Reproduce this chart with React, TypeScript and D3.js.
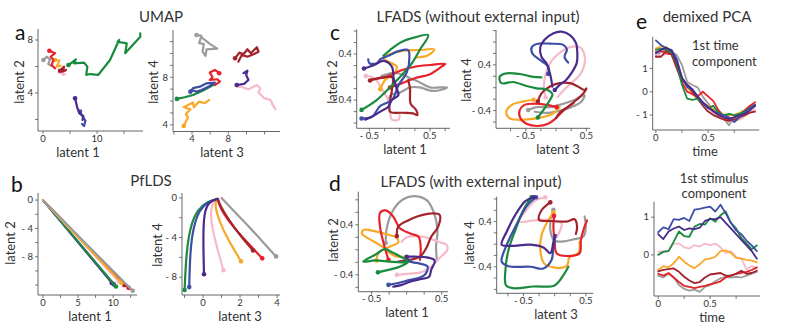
import React from 'react';
import * as d3 from 'd3';

type Pt = [number, number];
type Series = Record<string, Pt[]>;

const COLORS: Record<string, string> = {
  gray: '#9b9b9b',
  pink: '#f6b9ca',
  orange: '#f8a927',
  red: '#e7222b',
  darkred: '#a3232b',
  green: '#198b3e',
  blue: '#3c4fa4',
  indigo: '#4a2b8d',
};
const ORDER = ['gray', 'pink', 'orange', 'red', 'darkred', 'green', 'blue', 'indigo'];
const ORDER_B = ['indigo', 'blue', 'green', 'darkred', 'red', 'pink', 'orange', 'gray'];

// a: UMAP, latent 1 vs latent 2
const umap12: Series = {
  green: [[4.7, 6.11], [6.1, 6.54], [5.7, 6.24], [7.6, 6.29], [8.2, 5.99], [8.0, 5.36], [8.7, 5.43], [10.2, 5.36], [12.4, 6.49], [13.8, 7.75], [14.1, 8.0], [13.8, 7.87], [15.5, 7.75], [15.2, 7.0], [18.0, 8.25], [18.0, 8.5]],
  indigo: [[5.93, 3.6], [6.36, 2.85], [6.73, 2.47], [7.47, 2.26], [7.3, 1.96]],
  blue: [[6.85, 2.59], [7.35, 2.21], [7.84, 1.91], [7.6, 1.51], [7.2, 1.66]],
  red: [[1.17, 7.19], [2.22, 7.0], [1.42, 6.74], [1.91, 6.49], [1.6, 6.11], [2.22, 5.86]],
  gray: [[0.06, 6.49], [0.68, 6.74], [1.3, 6.54], [0.98, 6.19], [1.6, 6.04]],
  orange: [[2.22, 6.49], [3.02, 6.44], [2.53, 5.99], [3.27, 6.06]],
  darkred: [[3.15, 5.68], [3.89, 5.99], [3.64, 5.61], [4.26, 5.74]],
  pink: [[3.15, 5.61], [3.77, 5.36], [4.07, 5.43]],
};

// a: UMAP, latent 3 vs latent 4
const umap34: Series = {
  gray: [[4.49, 11.55], [5.04, 11.47], [4.78, 10.86], [5.3, 10.8], [5.16, 10.15], [5.49, 9.79], [5.6, 10.35], [6.78, 10.4], [5.96, 10.8], [5.04, 11.36]],
  darkred: [[8.74, 9.6], [9.22, 10.07], [9.67, 9.93], [10.11, 10.35], [10.48, 10.02], [11.15, 10.52], [11.33, 10.15], [10.85, 9.96], [10.11, 9.73], [9.48, 9.87], [9.11, 9.31]],
  red: [[7.0, 8.34], [6.52, 8.61], [5.96, 8.39], [6.26, 8.0], [5.96, 7.77], [6.78, 7.83], [7.08, 7.63], [6.52, 7.35]],
  blue: [[3.82, 6.79], [4.11, 7.08], [4.86, 7.21], [5.6, 7.49], [6.52, 7.55], [5.96, 7.27], [5.04, 6.93], [4.49, 6.79], [3.93, 6.93]],
  green: [[2.33, 6.18], [3.19, 6.32], [4.11, 6.51], [5.22, 6.88], [6.33, 7.35]],
  orange: [[3.08, 3.91], [3.56, 4.64], [3.3, 4.89], [3.82, 5.31], [3.08, 5.48], [4.11, 5.87], [4.19, 5.48], [4.78, 5.95], [5.41, 5.82], [5.89, 6.09]],
  indigo: [[8.93, 7.35], [9.74, 7.44], [10.22, 7.77], [9.97, 8.19], [10.11, 8.55], [9.67, 8.34]],
  pink: [[9.11, 7.27], [10.22, 6.99], [11.15, 7.35], [11.52, 7.08], [11.33, 6.71], [11.97, 6.24], [12.63, 6.1], [13.19, 5.31], [12.82, 5.76]],
};

// b: PfLDS, latent 1 vs latent 2
const pflds12: Series = {
  indigo: [[0, 0], [9.8, -11.7]],
  blue: [[0, 0], [10.1, -11.9]],
  green: [[0, 0], [10.4, -12.2]],
  pink: [[0, 0], [10.8, -11.5]],
  orange: [[0, 0], [11.2, -11.7]],
  darkred: [[0, 0], [11.6, -12.0]],
  red: [[0, 0], [12.2, -12.4]],
  gray: [[0, 0], [12.8, -12.8]],
};

// b: PfLDS, latent 3 vs latent 4
const pflds34: Series = {
  green: [[0.75, -0.1], [0.2, -0.4], [-0.3, -1.2], [-0.65, -2.6], [-0.9, -5.2], [-1.0, -9.3]],
  blue: [[0.75, -0.1], [0.25, -0.4], [-0.2, -1.2], [-0.52, -2.9], [-0.7, -5.3], [-0.75, -9.0]],
  indigo: [[0.75, -0.1], [0.3, -0.4], [0.05, -1.5], [0.0, -4.0], [0.05, -7.7]],
  pink: [[0.75, -0.1], [0.45, -0.6], [0.4, -2.0], [0.6, -4.0], [1.1, -7.3]],
  orange: [[0.8, -0.1], [0.6, -0.6], [0.9, -2.5], [1.35, -4.2], [2.05, -6.4]],
  red: [[0.8, -0.1], [0.9, -1.0], [1.6, -2.9], [2.4, -4.5], [3.2, -6.1]],
  darkred: [[0.8, -0.1], [0.95, -0.9], [1.5, -2.5], [2.1, -4.0], [2.7, -5.3]],
  gray: [[1.0, 0.0], [1.7, -1.4], [2.5, -2.9], [3.2, -4.4], [3.95, -5.9]],
};

// c: LFADS without external input, latent 1 vs latent 2
const lfadsNo12: Series = {
  green: [[-0.63, -0.57], [-0.38, -0.4], [-0.16, -0.18], [0.03, 0.03], [0.2, 0.24], [0.33, 0.47], [0.47, 0.73], [0.25, 0.69], [0.03, 0.61], [-0.16, 0.47], [-0.27, 0.37]],
  blue: [[-0.63, -0.72], [-0.46, -0.69], [-0.32, -0.5], [-0.13, -0.4], [-0.02, -0.14], [0.12, 0.09], [0.16, 0.35], [0.14, 0.47], [-0.02, 0.45], [-0.19, 0.37], [-0.32, 0.31], [-0.38, 0.24], [-0.5, 0.24], [-0.52, 0.31]],
  orange: [[-0.32, -0.21], [-0.24, -0.05], [-0.1, 0.05], [-0.05, 0.18], [-0.19, 0.27], [-0.27, 0.33], [-0.13, 0.41], [0.06, 0.46], [0.33, 0.47], [0.57, 0.48], [0.47, 0.38], [0.28, 0.34]],
  red: [[-0.16, -0.18], [0.03, -0.11], [0.25, -0.02], [0.5, 0.05], [0.69, 0.18], [0.75, 0.23], [0.5, 0.21], [0.25, 0.18], [0.03, 0.12], [-0.16, 0.03], [-0.32, -0.02], [-0.46, -0.04]],
  gray: [[-0.17, -0.39], [-0.15, -0.31], [0.0, -0.27], [0.17, -0.18], [0.33, -0.18], [0.53, -0.24], [0.69, -0.22], [0.78, -0.18], [0.66, -0.18], [0.5, -0.18], [0.31, -0.08], [0.17, -0.02], [0.03, 0.05], [-0.13, 0.07], [-0.3, 0.02]],
  indigo: [[-0.59, 0.15], [-0.42, 0.21], [-0.27, 0.28], [-0.13, 0.18], [-0.1, -0.02], [-0.05, -0.2], [-0.02, -0.31], [-0.13, -0.4], [-0.19, -0.52], [-0.32, -0.6], [-0.46, -0.69], [-0.57, -0.74]],
  darkred: [[-0.49, -0.06], [-0.3, -0.01], [-0.12, -0.01], [-0.13, -0.23], [-0.16, -0.6], [0.03, -0.62], [0.22, -0.63], [0.29, -0.66], [0.27, -0.57], [0.18, -0.46], [0.17, -0.2], [0.14, -0.05]],
  pink: [[-0.56, 0.02], [-0.42, -0.02], [-0.3, -0.2], [-0.19, -0.4], [-0.16, -0.6], [-0.13, -0.74], [-0.02, -0.74], [0.0, -0.66]],
};

// c: LFADS without external input, latent 3 vs latent 4
const lfadsNo34: Series = {
  green: [[-0.3, -0.52], [-0.19, -0.36], [-0.1, -0.21], [-0.06, -0.11], [-0.16, -0.03], [-0.32, -0.01], [-0.49, 0.03], [-0.71, 0.1], [-0.9, 0.08], [-0.93, 0.19], [-0.82, 0.25], [-0.6, 0.24], [-0.38, 0.19], [-0.24, 0.18]],
  blue: [[-0.13, 0.24], [-0.13, 0.37], [-0.27, 0.49], [-0.39, 0.6], [-0.4, 0.71], [-0.3, 0.77], [-0.1, 0.77], [0.12, 0.75], [0.18, 0.67], [0.14, 0.54], [0.2, 0.44]],
  indigo: [[-0.02, -0.04], [0.06, 0.05], [0.17, 0.14], [0.25, 0.25], [0.34, 0.43], [0.35, 0.63], [0.33, 0.78], [0.23, 0.92], [0.09, 0.98], [-0.05, 0.95], [-0.19, 0.84], [-0.26, 0.71], [-0.24, 0.54], [-0.16, 0.43], [-0.1, 0.25], [-0.06, 0.02]],
  pink: [[-0.17, -0.17], [-0.2, 0.02], [-0.17, 0.25], [-0.08, 0.46], [0.06, 0.61], [0.23, 0.71], [0.39, 0.71], [0.47, 0.57], [0.46, 0.37], [0.39, 0.22], [0.25, 0.08], [0.12, -0.05], [0.03, -0.16]],
  darkred: [[-0.3, -0.24], [-0.24, -0.1], [-0.1, 0.02], [0.06, 0.08], [0.23, 0.08], [0.36, 0.02], [0.47, -0.04], [0.5, -0.01], [0.45, -0.1], [0.34, -0.21], [0.2, -0.33], [0.06, -0.44], [0.0, -0.53]],
  gray: [[-0.46, -0.39], [-0.32, -0.34], [-0.1, -0.34], [0.12, -0.28], [0.31, -0.21], [0.47, -0.13], [0.42, -0.24], [0.25, -0.34], [0.06, -0.4], [-0.13, -0.44], [-0.35, -0.42]],
  orange: [[-0.37, -0.21], [-0.54, -0.24], [-0.73, -0.3], [-0.82, -0.42], [-0.77, -0.53], [-0.63, -0.56], [-0.43, -0.55], [-0.24, -0.52], [-0.05, -0.45], [0.06, -0.34]],
  red: [[0.01, -0.34], [-0.16, -0.3], [-0.35, -0.28], [-0.52, -0.3], [-0.6, -0.39], [-0.59, -0.53], [-0.49, -0.63], [-0.3, -0.67], [-0.13, -0.63], [-0.02, -0.55], [0.12, -0.4], [0.29, -0.27]],
};

// d: LFADS with external input, latent 1 vs latent 2
const lfadsWith12: Series = {
  gray: [[-0.3, 0.11], [-0.28, 0.37], [-0.19, 0.64], [-0.05, 0.81], [0.12, 0.86], [0.29, 0.79], [0.39, 0.59], [0.44, 0.32], [0.42, 0.05], [0.43, -0.15]],
  red: [[-0.26, -0.16], [-0.33, 0.11], [-0.38, 0.37], [-0.38, 0.59], [-0.3, 0.63], [-0.19, 0.53], [-0.1, 0.35], [0.05, 0.26], [0.17, 0.21], [0.2, 0.03], [0.19, -0.16]],
  darkred: [[-0.14, 0.22], [-0.12, 0.37], [0.02, 0.47], [0.17, 0.54], [0.33, 0.58], [0.47, 0.56], [0.45, 0.37], [0.35, 0.21], [0.29, 0.05], [0.19, -0.11], [0.05, -0.16], [-0.12, -0.19]],
  orange: [[-0.43, -0.17], [-0.4, -0.05], [-0.26, 0.04], [-0.12, 0.12], [-0.14, 0.19], [-0.26, 0.24], [-0.43, 0.29], [-0.61, 0.32], [-0.64, 0.26], [-0.53, 0.17], [-0.36, 0.06], [-0.17, -0.1], [-0.02, -0.11]],
  green: [[-0.41, -0.36], [-0.26, -0.32], [-0.1, -0.27], [0.02, -0.19], [-0.07, -0.12], [-0.21, -0.04], [-0.31, 0.01], [-0.45, -0.08], [-0.62, -0.19], [-0.45, -0.17], [-0.24, -0.19], [-0.07, -0.2], [0.05, -0.19]],
  pink: [[-0.14, -0.4], [0.05, -0.38], [0.21, -0.36], [0.35, -0.27], [0.47, -0.13], [0.58, 0.0], [0.57, 0.08], [0.45, 0.13], [0.31, 0.19], [0.14, 0.22], [0.0, 0.2], [-0.07, 0.13]],
  indigo: [[0.0, -0.11], [0.12, -0.11], [0.29, -0.12], [0.4, -0.17], [0.35, -0.32], [0.32, -0.43], [0.19, -0.47], [0.05, -0.51], [-0.07, -0.56], [-0.19, -0.59]],
  blue: [[-0.26, -0.56], [-0.12, -0.53], [0.05, -0.48], [0.17, -0.45], [0.26, -0.4], [0.3, -0.27], [0.19, -0.22], [0.06, -0.19], [0.0, -0.11]],
};

// d: LFADS with external input, latent 3 vs latent 4
const lfadsWith34: Series = {
  green: [[-0.37, 0.83], [-0.5, 0.61], [-0.63, 0.25], [-0.74, -0.1], [-0.79, -0.46], [-0.78, -0.73], [-0.66, -0.78], [-0.34, -0.75], [0.0, -0.73], [0.14, -0.55], [0.22, -0.4]],
  indigo: [[-0.34, 0.83], [-0.47, 0.76], [-0.63, 0.52], [-0.77, 0.22], [-0.85, -0.01], [-0.71, -0.03], [-0.39, -0.01], [-0.18, -0.06], [-0.07, -0.16], [-0.02, 0.04], [0.0, 0.16]],
  blue: [[-0.3, 0.83], [-0.45, 0.67], [-0.63, 0.31], [-0.78, -0.04], [-0.85, -0.31], [-0.74, -0.39], [-0.39, -0.4], [-0.18, -0.43], [-0.05, -0.28], [-0.02, -0.04], [0.02, 0.16]],
  pink: [[-0.15, 0.83], [-0.31, 0.77], [-0.47, 0.58], [-0.58, 0.4], [-0.34, 0.42], [-0.1, 0.43], [0.11, 0.37], [0.08, 0.22], [0.04, 0.13]],
  darkred: [[-0.07, 0.74], [-0.21, 0.6], [-0.25, 0.43], [-0.07, 0.41], [0.19, 0.4], [0.32, 0.44], [0.36, 0.31], [0.34, 0.18]],
  orange: [[-0.02, 0.56], [-0.13, 0.37], [-0.21, 0.16], [-0.23, -0.1], [-0.17, -0.34], [-0.02, -0.41], [0.19, -0.39], [0.24, -0.23], [0.38, -0.16], [0.4, 0.04]],
  gray: [[-0.02, 0.61], [-0.07, 0.4], [-0.06, 0.19], [0.0, 0.06], [0.16, 0.05], [0.32, 0.09], [0.46, 0.13], [0.5, 0.31], [0.48, 0.49]],
  red: [[-0.01, 0.5], [-0.02, 0.28], [0.0, 0.07], [0.03, -0.16], [0.19, -0.21], [0.4, -0.16], [0.42, 0.07], [0.47, 0.28], [0.52, 0.42]],
};

// e: demixed PCA
const timePoints = [0, 0.05, 0.1, 0.15, 0.2, 0.25, 0.3, 0.35, 0.4, 0.45, 0.5, 0.55, 0.6, 0.65, 0.7, 0.75, 0.8, 0.85, 0.9, 0.95];

const dpcaTime: Record<string, number[]> = {
  gray: [1.57, 1.7, 1.79, 1.7, 1.57, 1.15, 0.43, 0.29, 0.19, -0.22, -0.5, -0.79, -0.97, -1.15, -1.44, -1.08, -0.93, -0.79, -0.67, -0.57],
  blue: [2.2, 2.0, 1.85, 1.8, 1.4, 0.6, 0.2, 0.1, -0.2, -0.5, -0.7, -0.8, -0.95, -1.0, -1.1, -1.3, -1.1, -0.9, -0.7, -0.55],
  orange: [1.85, 1.95, 1.9, 1.75, 1.3, 0.6, 0.2, -0.1, -0.3, -0.5, -0.6, -0.75, -0.8, -1.0, -1.0, -1.0, -0.9, -0.8, -0.7, -0.6],
  green: [1.8, 1.85, 1.8, 1.7, 1.2, 0.3, -0.3, -0.35, -0.3, -0.5, -0.7, -0.6, -0.9, -1.0, -0.95, -1.0, -0.95, -0.85, -0.7, -0.6],
  red: [1.7, 1.75, 1.65, 1.6, 1.0, 0.4, 0.0, -0.1, -0.2, 0.0, -0.2, -0.4, -0.8, -1.1, -1.2, -1.1, -1.0, -0.8, -0.6, -0.45],
  darkred: [1.5, 1.5, 1.75, 1.6, 1.1, 0.5, 0.3, 0.0, -0.3, -0.6, -0.85, -1.0, -1.1, -1.2, -1.25, -1.2, -1.1, -1.0, -0.9, -0.85],
  pink: [1.6, 1.55, 1.6, 1.65, 1.2, 0.6, 0.35, 0.1, -0.2, -0.5, -0.7, -0.9, -1.05, -1.15, -1.3, -1.25, -1.2, -1.05, -0.9, -0.75],
  indigo: [1.65, 1.8, 1.9, 1.75, 1.3, 0.6, 0.3, 0.1, -0.2, -0.45, -0.65, -0.85, -1.0, -1.1, -1.15, -1.1, -1.0, -0.95, -0.8, -0.6],
};

const dpcaStim: Record<string, number[]> = {
  blue: [0.6, 0.73, 0.68, 0.95, 0.93, 0.98, 0.9, 1.2, 1.22, 1.25, 1.28, 1.15, 1.33, 1.1, 0.85, 0.65, 0.55, 0.38, 0.25, 0.1],
  indigo: [0.55, 0.42, 0.62, 0.7, 0.75, 0.66, 0.7, 0.68, 0.72, 0.9, 0.95, 0.95, 1.0, 0.85, 0.7, 0.55, 0.4, 0.25, 0.1, -0.1],
  green: [0.0, 0.08, 0.1, 0.35, 0.62, 0.5, 0.48, 0.75, 0.82, 0.8, 0.97, 0.88, 1.05, 1.15, 0.85, 0.7, 0.45, 0.3, 0.15, 0.25],
  pink: [0.08, 0.1, 0.12, 0.3, 0.3, 0.2, 0.17, 0.26, 0.22, 0.3, 0.26, 0.3, 0.2, 0.05, 0.1, -0.05, -0.1, -0.38, -0.3, -0.35],
  orange: [-0.4, -0.3, -0.33, -0.22, -0.05, -0.18, -0.28, -0.35, -0.25, -0.12, -0.1, -0.05, 0.1, 0.12, 0.05, -0.08, -0.1, -0.13, -0.15, -0.2],
  darkred: [-0.44, -0.4, -0.38, -0.36, -0.45, -0.58, -0.68, -0.75, -0.72, -0.6, -0.52, -0.5, -0.48, -0.55, -0.55, -0.5, -0.42, -0.5, -0.48, -0.42],
  red: [-0.5, -0.55, -0.48, -0.6, -0.72, -0.82, -0.85, -0.88, -0.85, -0.82, -0.78, -0.75, -0.7, -0.6, -0.55, -0.5, -0.48, -0.45, -0.4, -0.33],
  gray: [-0.55, -0.6, -0.5, -0.6, -0.8, -0.9, -0.95, -0.92, -0.98, -0.85, -0.8, -0.7, -0.62, -0.58, -0.6, -0.58, -0.6, -0.55, -0.5, -0.45],
};

const FONT = 'Lato, "Open Sans", sans-serif';
const AXIS = '#555';
const TEXT = '#333';

const fmt = (v: number) => (v < 0 ? `- ${Math.abs(v)}` : `${v}`);

const toSeries = (vals: Record<string, number[]>): Series => {
  const out: Series = {};
  Object.keys(vals).forEach((k) => {
    out[k] = d3.zip(timePoints, vals[k]) as Pt[];
  });
  return out;
};

type PanelProps = {
  frame: { left: number; right: number; top: number; bottom: number };
  xDomain: [number, number];
  yDomain: [number, number];
  xTicks: number[];
  xTickLabels: number[];
  yTicks: number[];
  yTickLabels: number[];
  series: Series;
  order?: string[];
  curve?: d3.CurveFactory;
  marker?: 'start' | 'end' | 'none';
  xLabel: { text: string; x: number };
  yLabel?: { text: string; x: number; y: number };
  width?: number;
};

const Panel = ({ frame, xDomain, yDomain, xTicks, xTickLabels, yTicks, yTickLabels, series, order = ORDER, curve = d3.curveLinear, marker = 'none', xLabel, yLabel, width = 2.2 }: PanelProps) => {
  const x = d3.scaleLinear().domain(xDomain).range([frame.left, frame.right]);
  const y = d3.scaleLinear().domain(yDomain).range([frame.bottom, frame.top]);
  const line = d3.line<Pt>().x((d) => x(d[0])).y((d) => y(d[1])).curve(curve);
  const tickBase = frame.bottom + 10.5;

  return (
    <g>
      {/* axes */}
      <line x1={frame.left} y1={frame.top} x2={frame.left} y2={frame.bottom} stroke={AXIS} strokeWidth={0.9} />
      <line x1={frame.left} y1={frame.bottom} x2={frame.right} y2={frame.bottom} stroke={AXIS} strokeWidth={0.9} />
      {xTicks.map((t) => (
        <line key={'xt' + t} x1={x(t)} x2={x(t)} y1={frame.bottom} y2={frame.bottom + 3} stroke={AXIS} strokeWidth={0.8} />
      ))}
      {yTicks.map((t) => (
        <line key={'yt' + t} x1={frame.left - 3} x2={frame.left} y1={y(t)} y2={y(t)} stroke={AXIS} strokeWidth={0.8} />
      ))}
      {xTickLabels.map((t) => (
        <text key={'xl' + t} x={x(t)} y={tickBase} fontSize={9.5} textAnchor="middle" fill={TEXT}>
          {fmt(t)}
        </text>
      ))}
      {yTickLabels.map((t) => (
        <text key={'yl' + t} x={frame.left - 5} y={y(t)} dy="0.35em" fontSize={9.5} textAnchor="end" fill={TEXT}>
          {fmt(t)}
        </text>
      ))}
      {/* trajectories */}
      {order.filter((k) => series[k]).map((k) => {
        const pts = series[k];
        const m = marker === 'start' ? pts[0] : marker === 'end' ? pts[pts.length - 1] : null;
        return (
          <g key={k}>
            <path d={line(pts) || ''} fill="none" stroke={COLORS[k]} strokeWidth={width} strokeLinejoin="round" strokeLinecap="round" />
            {m && <circle cx={x(m[0])} cy={y(m[1])} r={2.3} fill={COLORS[k]} />}
          </g>
        );
      })}
      <text x={xLabel.x} y={tickBase + 15} fontSize={13} textAnchor="middle" fill={TEXT}>
        {xLabel.text}
      </text>
      {yLabel && (
        <text x={yLabel.x} y={yLabel.y} dy="0.35em" fontSize={13} textAnchor="middle" fill={TEXT} transform={`rotate(-90, ${yLabel.x}, ${yLabel.y})`}>
          {yLabel.text}
        </text>
      )}
    </g>
  );
};

const lfTicks = (a: number, b: number, s: number) => d3.range(Math.round(a / s), Math.round(b / s) + 1).map((i) => +(i * s).toFixed(2));

export default function App() {
  const smooth = d3.curveCatmullRom.alpha(0.5);
  return (
    <svg width={789} height={326} style={{ position: 'absolute', left: 0, top: 0, background: '#fff', fontFamily: FONT }}>
      {/* titles and panel letters */}
      <text x={161} y={22} fontSize={15} textAnchor="middle" fill={TEXT}>UMAP</text>
      <text x={151} y={186} fontSize={15} textAnchor="middle" fill={TEXT}>PfLDS</text>
      <text x={478} y={22} fontSize={15} textAnchor="middle" fill={TEXT}>LFADS (without external input)</text>
      <text x={471} y={187} fontSize={15} textAnchor="middle" fill={TEXT}>LFADS (with external input)</text>
      <text x={707} y={22} fontSize={15} textAnchor="middle" fill={TEXT}>demixed PCA</text>
      <text x={15} y={40} fontSize={21} fill="#111">a</text>
      <text x={11} y={192} fontSize={21} fill="#111">b</text>
      <text x={330} y={40} fontSize={21} fill="#111">c</text>
      <text x={329} y={191} fontSize={21} fill="#111">d</text>
      <text x={636} y={29} fontSize={21} fill="#111">e</text>

      <Panel
        frame={{ left: 38, right: 143, top: 29, bottom: 131 }}
        xDomain={[-0.93, 18.5]} yDomain={[1.13, 8.83]}
        xTicks={[0, 5, 10, 15]} xTickLabels={[0, 10]}
        yTicks={[2, 4, 6, 8]} yTickLabels={[4, 8]}
        series={umap12} marker="start"
        xLabel={{ text: 'latent 1', x: 78 }} yLabel={{ text: 'latent 2', x: 19, y: 82 }}
      />
      <Panel
        frame={{ left: 173, right: 280, top: 30, bottom: 131.5 }}
        xDomain={[1.9, 13.7]} yDomain={[3.44, 11.97]}
        xTicks={[2, 4, 6, 8, 10, 12]} xTickLabels={[4, 8]}
        yTicks={[4, 5, 6, 7, 8, 9, 10, 11]} yTickLabels={[4, 8]}
        series={umap34} marker="start"
        xLabel={{ text: 'latent 3', x: 222 }} yLabel={{ text: 'latent 4', x: 153, y: 82 }}
      />
      <Panel
        frame={{ left: 38, right: 137, top: 193, bottom: 295 }}
        xDomain={[-0.71, 13.4]} yDomain={[-13.4, 1.0]}
        xTicks={[0, 2.5, 5, 7.5, 10, 12.5]} xTickLabels={[0, 5, 10]}
        yTicks={[0, -2, -4, -6, -8, -10, -12]} yTickLabels={[0, -4, -8]}
        series={pflds12} order={ORDER_B} marker="end" width={2.0}
        xLabel={{ text: 'latent 1', x: 90 }} yLabel={{ text: 'latent 2', x: 10, y: 243 }}
      />
      <Panel
        frame={{ left: 182, right: 280, top: 193, bottom: 295 }}
        xDomain={[-1.14, 4.16]} yDomain={[-9.8, 0.5]}
        xTicks={[-1, 0, 1, 2, 3, 4]} xTickLabels={[0, 2, 4]}
        yTicks={[0, -2, -4, -6, -8]} yTickLabels={[0, -4, -8]}
        series={pflds34} curve={d3.curveBasis} marker="end"
        xLabel={{ text: 'latent 3', x: 240 }} yLabel={{ text: 'latent 4', x: 157, y: 245 }}
      />
      <Panel
        frame={{ left: 356.7, right: 450, top: 29.3, bottom: 128.3 }}
        xDomain={[-0.71, 0.83]} yDomain={[-0.89, 0.83]}
        xTicks={lfTicks(-0.5, 0.75, 0.25)} xTickLabels={[-0.5, 0.5]}
        yTicks={lfTicks(-0.8, 0.8, 0.2)} yTickLabels={[-0.4, 0.4]}
        series={lfadsNo12} curve={smooth} marker="start"
        xLabel={{ text: 'latent 1', x: 405 }} yLabel={{ text: 'latent 2', x: 332, y: 82 }}
      />
      <Panel
        frame={{ left: 496, right: 590, top: 30, bottom: 128.3 }}
        xDomain={[-0.99, 0.56]} yDomain={[-0.71, 1.01]}
        xTicks={lfTicks(-0.75, 0.5, 0.25)} xTickLabels={[-0.5, 0.5]}
        yTicks={lfTicks(-0.6, 1.0, 0.2)} yTickLabels={[-0.4, 0.4]}
        series={lfadsNo34} curve={smooth} marker="start"
        xLabel={{ text: 'latent 3', x: 558 }} yLabel={{ text: 'latent 4', x: 466, y: 80 }}
      />
      <Panel
        frame={{ left: 358.3, right: 448, top: 191.7, bottom: 291.7 }}
        xDomain={[-0.69, 0.59]} yDomain={[-0.67, 0.93]}
        xTicks={lfTicks(-0.5, 0.5, 0.25)} xTickLabels={[-0.5, 0.5]}
        yTicks={lfTicks(-0.6, 0.8, 0.2)} yTickLabels={[-0.4, 0.4]}
        series={lfadsWith12} curve={smooth} marker="start"
        xLabel={{ text: 'latent 1', x: 407 }} yLabel={{ text: 'latent 2', x: 333, y: 240 }}
      />
      <Panel
        frame={{ left: 496.7, right: 593.3, top: 196.7, bottom: 293.3 }}
        xDomain={[-0.93, 0.62]} yDomain={[-0.87, 0.84]}
        xTicks={lfTicks(-0.75, 0.5, 0.25)} xTickLabels={[-0.5, 0.5]}
        yTicks={lfTicks(-0.8, 0.8, 0.2)} yTickLabels={[-0.4, 0.4]}
        series={lfadsWith34} curve={smooth} marker="start"
        xLabel={{ text: 'latent 3', x: 556 }} yLabel={{ text: 'latent 4', x: 469, y: 243 }}
      />
      <Panel
        frame={{ left: 652.7, right: 759.3, top: 36.7, bottom: 130 }}
        xDomain={[-0.03, 0.99]} yDomain={[-1.64, 2.36]}
        xTicks={[0, 0.25, 0.5, 0.75]} xTickLabels={[0, 0.5]}
        yTicks={[-1, 0, 1]} yTickLabels={[-1, 0, 1]}
        series={toSeries(dpcaTime)} width={1.8}
        xLabel={{ text: 'time', x: 705 }}
      />
      <text x={692} y={50} fontSize={13} fill={TEXT}>1st time</text>
      <text x={692} y={66} fontSize={13} fill={TEXT}>component</text>
      <Panel
        frame={{ left: 654, right: 760, top: 201.7, bottom: 296 }}
        xDomain={[-0.04, 0.98]} yDomain={[-1.09, 1.41]}
        xTicks={[0, 0.25, 0.5, 0.75]} xTickLabels={[0, 0.5]}
        yTicks={[0, 1]} yTickLabels={[0, 1]}
        series={toSeries(dpcaStim)} width={1.8}
        xLabel={{ text: 'time', x: 712 }}
      />
      <text x={714} y={183} fontSize={13} textAnchor="middle" fill={TEXT}>1st stimulus</text>
      <text x={714} y={198} fontSize={13} textAnchor="middle" fill={TEXT}>component</text>
    </svg>
  );
}
